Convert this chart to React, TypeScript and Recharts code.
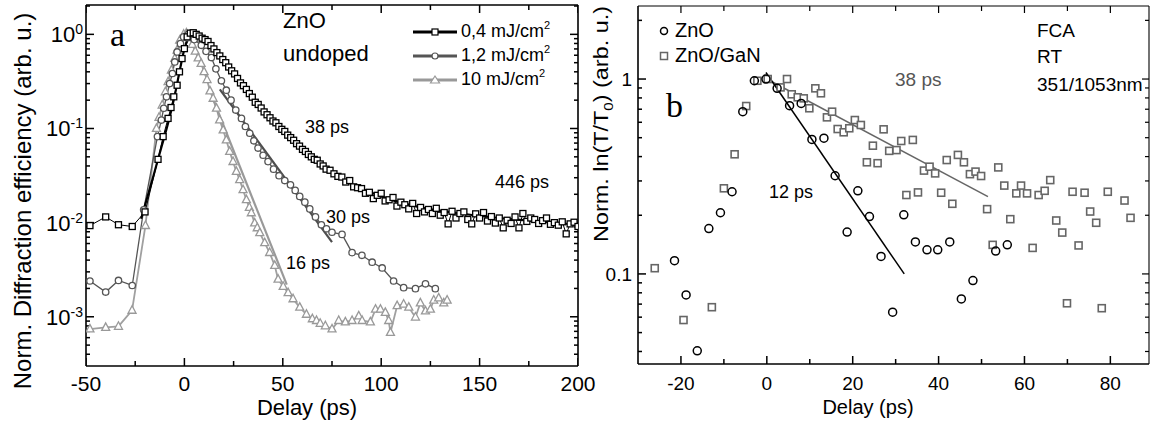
import React from 'react'
import { LineChart, Line, XAxis, YAxis } from 'recharts'

const SANS = '"Liberation Sans", Arial, Helvetica, sans-serif'
const SERIF = '"Liberation Serif", "Times New Roman", serif'

// ---------- panel a: diffraction efficiency vs delay ----------
const delay04 = [-48, -40, -33.5, -26.5, -20, -13.4, -10.8, -8.3, -6.8, -5.4, -3.7, -2.5, -1.2, 0, 1.4, 3, 4.5, 6, 7.5, 9, 10.5, 12, 13.5, 15, 16.5, 18, 19.5, 21, 22.5, 24, 25.5, 27, 28.5, 30, 31.5, 33, 34.5, 36, 37.5, 39, 40.5, 42, 43.5, 45, 46.5, 48, 49.5, 51, 52.5, 54, 55.5, 57, 58.5, 60, 61.5, 63, 64.5, 66, 67.5, 69, 70.5, 72, 74, 76, 78, 80, 82, 84, 86, 88, 90, 92, 94, 96, 98, 100, 102, 104, 106, 108, 110, 112, 114, 116, 118, 120, 122, 124, 126, 128, 130, 132, 134, 136, 138, 140, 142, 144, 146, 148, 150, 152, 154, 156, 158, 160, 162, 164, 166, 168, 170, 172, 174, 176, 178, 180, 182, 184, 186, 188, 190, 192, 194, 196, 198, 200]
const eff04 = [0.0093, 0.0115, 0.0095, 0.0091, 0.013, 0.047, 0.082, 0.128, 0.167, 0.217, 0.288, 0.4, 0.553, 0.705, 0.94, 1.03, 1.04, 1.0, 0.96, 0.91, 0.88, 0.84, 0.76, 0.7, 0.64, 0.59, 0.54, 0.5, 0.45, 0.41, 0.38, 0.34, 0.305, 0.285, 0.26, 0.235, 0.215, 0.19, 0.18, 0.165, 0.15, 0.14, 0.13, 0.12, 0.115, 0.105, 0.098, 0.093, 0.085, 0.08, 0.075, 0.069, 0.065, 0.06, 0.057, 0.053, 0.05, 0.047, 0.046, 0.042, 0.04, 0.037, 0.036, 0.033, 0.031, 0.0305, 0.027, 0.028, 0.024, 0.0235, 0.023, 0.0205, 0.021, 0.018, 0.0195, 0.0205, 0.017, 0.0175, 0.0185, 0.015, 0.0165, 0.0155, 0.014, 0.016, 0.0125, 0.0145, 0.013, 0.0138, 0.0125, 0.0142, 0.012, 0.0128, 0.0097, 0.0132, 0.0112, 0.0125, 0.013, 0.0108, 0.0097, 0.0124, 0.0112, 0.0128, 0.0104, 0.0116, 0.0099, 0.0112, 0.0088, 0.0106, 0.0098, 0.0115, 0.0088, 0.0125, 0.0103, 0.0112, 0.0108, 0.0098, 0.0105, 0.0112, 0.0096, 0.01, 0.0094, 0.0102, 0.0076, 0.0097, 0.0101, 0.0091]

const delay12 = [-48, -40, -33.5, -26.5, -20.7, -13.7, -11.7, -10.5, -9.1, -7.5, -6.1, -4.9, -3.7, -2, -0.4, 1.9, 5, 8.6, 11, 13.7, 16, 18.8, 21.3, 23.7, 26.1, 29, 31, 33.2, 35.3, 37.4, 40, 42.5, 45.3, 48.1, 51, 53.9, 56.3, 58.6, 61.2, 63.7, 66.6, 69.6, 72.2, 75, 80.1, 85.2, 90.2, 95.4, 100.5, 106.3, 111.4, 117.4, 122.5, 127.5]
const eff12 = [0.0024, 0.00183, 0.00243, 0.00215, 0.0137, 0.082, 0.123, 0.164, 0.217, 0.3, 0.384, 0.509, 0.65, 0.797, 0.94, 1.0, 0.88, 0.765, 0.66, 0.567, 0.43, 0.321, 0.255, 0.2, 0.157, 0.128, 0.105, 0.089, 0.074, 0.062, 0.052, 0.0445, 0.037, 0.0315, 0.028, 0.0252, 0.022, 0.019, 0.0165, 0.014, 0.0115, 0.0095, 0.0086, 0.0079, 0.0075, 0.0048, 0.0045, 0.0038, 0.0033, 0.0024, 0.00204, 0.00199, 0.00224, 0.00199]

const delay10 = [-48, -40, -33.5, -26.6, -19.8, -14.2, -12.9, -11.3, -9.7, -8.3, -6.6, -4.9, -3.7, -2.4, -0.4, 1, 2.5, 4, 5.5, 7, 8.5, 10, 11.5, 13, 14.6, 16.3, 17.9, 19.7, 21.3, 23, 24.7, 26.4, 28.1, 29.8, 31.5, 33, 34, 35.7, 37, 38.3, 40.8, 43.3, 45.9, 47.6, 50.2, 52.7, 55.2, 58.6, 62, 65, 67.1, 69, 71.6, 75, 78.4, 81.8, 85.2, 88.6, 90.3, 94.5, 97.1, 99.6, 102.1, 103.8, 104.7, 108.1, 111.4, 114, 117.4, 119.9, 122.5, 125, 126.7, 129.2, 131.8, 133.5]
const eff10 = [0.00074, 0.00077, 0.00079, 0.00117, 0.0093, 0.1, 0.131, 0.177, 0.245, 0.313, 0.416, 0.553, 0.677, 0.864, 1.0, 1.03, 0.92, 0.78, 0.66, 0.56, 0.49, 0.4, 0.33, 0.25, 0.209, 0.164, 0.123, 0.0964, 0.0755, 0.0569, 0.0445, 0.0349, 0.0285, 0.0223, 0.0175, 0.0145, 0.0127, 0.0099, 0.0088, 0.0078, 0.0061, 0.0048, 0.0035, 0.0025, 0.0021, 0.0018, 0.00155, 0.00126, 0.00106, 0.00095, 0.00091, 0.00085, 0.0008, 0.00074, 0.00091, 0.00088, 0.00091, 0.00102, 0.00091, 0.00088, 0.0012, 0.0012, 0.00111, 0.00091, 0.00068, 0.00131, 0.00136, 0.00126, 0.00099, 0.0014, 0.00115, 0.0012, 0.0015, 0.00158, 0.0014, 0.0015]

// fitted decays
const fit38x = [-22, -16, -12, -8, -5, -2, 0, 2, 4, 6, 10, 15, 20, 25, 30, 35, 40, 45, 50, 60, 70, 80, 90, 100, 120, 140, 160, 180, 200]
const fit38y = [0.011, 0.03, 0.06, 0.12, 0.22, 0.45, 0.7, 0.9, 1.0, 1.0, 0.89, 0.7, 0.52, 0.38, 0.28, 0.21, 0.16, 0.125, 0.097, 0.061, 0.04, 0.029, 0.023, 0.019, 0.0145, 0.0125, 0.0112, 0.0103, 0.0095]
const fit30x = [18, 75]
const fit30y = [0.26, 0.0062]
const fit16x = [14, 52]
const fit16y = [0.22, 0.0022]

const xMajorA = [-50, 0, 50, 100, 150, 200]
const xMinorA = [-25, 25, 75, 125, 175]
const yMajorA = [0.001, 0.01, 0.1, 1]
const yExpA = ['-3', '-2', '-1', '0']
const yMinorA = [0.0004, 0.0005, 0.0006, 0.0007, 0.0008, 0.0009, 0.002, 0.003, 0.004, 0.005, 0.006, 0.007, 0.008, 0.009, 0.02, 0.03, 0.04, 0.05, 0.06, 0.07, 0.08, 0.09, 0.2, 0.3, 0.4, 0.5, 0.6, 0.7, 0.8, 0.9, 2]

// ---------- panel b: FCA ----------
const delayZnO = [-21.5, -18.8, -16.2, -13.5, -10.8, -8.1, -5.6, -2.9, -0.2, 2.4, 5.3, 8, 10.5, 13.3, 15.9, 18.7, 21.2, 23.9, 26.6, 29.3, 31.9, 34.6, 37.3, 39.8, 42.6, 45.3, 48, 53.3, 56]
const lnZnO = [0.117, 0.078, 0.0403, 0.171, 0.206, 0.264, 0.68, 0.98, 1.0, 0.896, 0.73, 0.75, 0.49, 0.497, 0.319, 0.164, 0.267, 0.197, 0.123, 0.0636, 0.201, 0.146, 0.133, 0.133, 0.146, 0.0744, 0.0924, 0.131, 0.141]
const delayGaN = [-26.1, -19.4, -12.8, -10, -7.5, -4.8, -2.2, 0.2, 3.2, 4.7, 5.8, 7.2, 8.6, 9.9, 11.3, 12.6, 14, 15.2, 16.5, 17.9, 19.2, 20.5, 21.9, 23.3, 24.7, 25.8, 27.2, 28.5, 30.2, 31.3, 32.5, 34, 35.2, 36.6, 37.9, 39.2, 40.6, 41.9, 43.2, 44.5, 45.9, 47.3, 48.6, 49.9, 51.3, 52.6, 53.9, 55.3, 56.7, 58.1, 59.2, 60.6, 61.9, 63.3, 64.7, 66, 67.4, 68.8, 69.9, 71.2, 72.6, 74, 75.3, 76.7, 78, 79.4, 83.3, 84.7]
const lnGaN = [0.107, 0.058, 0.0675, 0.275, 0.411, 0.727, 0.98, 1.0, 0.906, 1.0, 0.835, 0.806, 0.796, 0.708, 0.896, 0.845, 0.636, 0.68, 0.554, 0.533, 0.559, 0.616, 0.581, 0.374, 0.455, 0.37, 0.552, 0.428, 0.432, 0.481, 0.254, 0.487, 0.262, 0.339, 0.355, 0.328, 0.261, 0.384, 0.229, 0.408, 0.374, 0.325, 0.335, 0.318, 0.215, 0.141, 0.352, 0.284, 0.191, 0.259, 0.284, 0.259, 0.136, 0.254, 0.267, 0.303, 0.188, 0.163, 0.0707, 0.264, 0.14, 0.261, 0.209, 0.183, 0.0667, 0.264, 0.238, 0.194]
const fit12x = [-0.2, 32]
const fit12y = [1.08, 0.1]
const fitGaNx = [0, 51.5]
const fitGaNy = [1.0, 0.249]

const xMajorB = [-20, 0, 20, 40, 60, 80]
const xMinorB = [-10, 10, 30, 50, 70]
const yMajorB = [0.1, 1]
const yLabelsB = ['0.1', '1']
const yMinorB = [0.04, 0.05, 0.06, 0.07, 0.08, 0.09, 0.2, 0.3, 0.4, 0.5, 0.6, 0.7, 0.8, 0.9, 2]

type Pt = { x: number; y: number }
const zip = (xs: number[], ys: number[]): Pt[] => xs.map((x, i) => ({ x, y: ys[i] }))

const squareDot = (s: number, stroke: string, sw: number) => (p: any) => {
  const { cx, cy, index } = p
  if (cx == null || cy == null) return <g key={`sq${index}`} />
  return <rect key={`sq${index}`} x={cx - s / 2} y={cy - s / 2} width={s} height={s} fill="#fff" stroke={stroke} strokeWidth={sw} />
}
const triangleDot = (s: number, stroke: string, sw: number) => (p: any) => {
  const { cx, cy, index } = p
  if (cx == null || cy == null) return <g key={`tr${index}`} />
  const pts = `${cx},${cy - s * 0.58} ${cx - s / 2},${cy + s * 0.36} ${cx + s / 2},${cy + s * 0.36}`
  return <polygon key={`tr${index}`} points={pts} fill="#fff" stroke={stroke} strokeWidth={sw} />
}
const circleDot = (r: number, stroke: string, sw: number, fill = '#fff') => (p: any) => {
  const { cx, cy, index } = p
  if (cx == null || cy == null) return <g key={`ci${index}`} />
  return <circle key={`ci${index}`} cx={cx} cy={cy} r={r} fill={fill} stroke={stroke} strokeWidth={sw} />
}

// inward tick marks as thin bars placed through the chart scales
type Side = 'top' | 'bottom' | 'left' | 'right'
const tickDot = (side: Side, len: number, w: number) => (p: any) => {
  const { cx, cy, index } = p
  if (cx == null || cy == null) return <g key={`t${side}${index}`} />
  let r = { x: cx - w / 2, y: cy - len, width: w, height: len }
  if (side === 'top') r = { x: cx - w / 2, y: cy, width: w, height: len }
  if (side === 'left') r = { x: cx, y: cy - w / 2, width: len, height: w }
  if (side === 'right') r = { x: cx - len, y: cy - w / 2, width: len, height: w }
  return <rect key={`t${side}${index}`} {...r} fill="#000" stroke="none" />
}
const TickMarks = (side: Side, pts: Pt[], len: number, w: number, key: string) => (
  <Line key={key} xAxisId="b" yAxisId="l" data={pts} dataKey="y" type="linear" stroke="none" strokeWidth={0}
    dot={tickDot(side, len, w)} activeDot={false} isAnimationActive={false} legendType="none" />
)
const atY = (xs: number[], y: number): Pt[] => xs.map((x) => ({ x, y }))
const atX = (ys: number[], x: number): Pt[] => ys.map((y) => ({ x, y }))

const axisLine = { stroke: '#000', strokeWidth: 1.6 }
const thinLine = { stroke: '#000', strokeWidth: 1.1 }
const tickStroke = (w: number) => ({ stroke: '#000', strokeWidth: w })

// mirrored helper axes: they give the top / right frame lines
const markX = (id: string, side: 'top' | 'bottom', domain: number[], ticks: number[], size: number, w: number, line: any = false) => (
  <XAxis key={id} xAxisId={id} orientation={side} mirror type="number" dataKey="x" domain={domain} allowDataOverflow
    ticks={ticks} interval={0} tick={false} tickSize={size} tickLine={tickStroke(w)} axisLine={line} height={0.01} />
)
const markY = (id: string, side: 'left' | 'right', domain: number[], ticks: number[], size: number, w: number, line: any = false) => (
  <YAxis key={id} yAxisId={id} orientation={side} mirror type="number" scale="log" domain={domain} allowDataOverflow
    ticks={ticks} interval={0} tick={false} tickSize={size} tickLine={tickStroke(w)} axisLine={line} width={0.01} />
)

function PanelA() {
  const xDom = [-50, 200]
  const yDom = [0.0003, 2.05]
  const xLabel = (p: any) => (
    <text key={`xa${p.payload?.value}`} x={p.x} y={Number(p.y) + 25} textAnchor="middle" fontFamily={SANS} fontSize={21} fill="#000">
      {String(p.payload?.value)}
    </text>
  )
  const yLabel = (p: any) => {
    const v = Number(p.payload?.value)
    const i = yMajorA.findIndex((m) => Math.abs(m - v) <= m * 1e-6)
    return (
      <text key={`ya${v}`} x={Number(p.x) - 3} y={Number(p.y) + 8} textAnchor="end" fontFamily={SANS} fontSize={22} fill="#000">
        10<tspan dy={-8} fontSize={14}>{yExpA[i]}</tspan>
      </text>
    )
  }
  return (
    <LineChart width={600} height={423} margin={{ top: 5, right: 22, bottom: 17, left: 26 }}>
      <XAxis xAxisId="b" dataKey="x" type="number" domain={xDom} allowDataOverflow ticks={xMajorA} interval={0}
        tickLine={false} tickSize={0} tickMargin={0} axisLine={axisLine} height={40} tick={xLabel} />
      <YAxis yAxisId="l" type="number" scale="log" domain={yDom} allowDataOverflow ticks={yMajorA} interval={0}
        tickLine={false} tickSize={0} tickMargin={0} axisLine={axisLine} width={60} tick={yLabel} />
      {markX('bM', 'bottom', xDom, xMajorA, 8, 1.5)}
      {markX('bm', 'bottom', xDom, xMinorA, 5, 1.5)}
      {markX('tM', 'top', xDom, xMajorA, 8, 1.5, axisLine)}
      {markX('tm', 'top', xDom, xMinorA, 5, 1.5)}
      {markY('lM', 'left', yDom, yMajorA, 8, 1.5)}
      {markY('lm', 'left', yDom, yMinorA, 4, 1.5)}
      {markY('rM', 'right', yDom, yMajorA, 8, 1.5, axisLine)}
      {markY('rm', 'right', yDom, yMinorA, 4, 1.5)}

      {TickMarks('bottom', atY(xMajorA, yDom[0]), 8, 1.5, 'bM')}
      {TickMarks('bottom', atY(xMinorA, yDom[0]), 5, 1.5, 'bm')}
      {TickMarks('top', atY(xMajorA, yDom[1]), 8, 1.5, 'tM')}
      {TickMarks('top', atY(xMinorA, yDom[1]), 5, 1.5, 'tm')}
      {TickMarks('left', atX(yMajorA, xDom[0]), 8, 1.5, 'lM')}
      {TickMarks('left', atX(yMinorA, xDom[0]), 4, 1.5, 'lm')}
      {TickMarks('right', atX(yMajorA, xDom[1]), 8, 1.5, 'rM')}
      {TickMarks('right', atX(yMinorA, xDom[1]), 4, 1.5, 'rm')}

      <Line xAxisId="b" yAxisId="l" data={zip(delay10, eff10)} dataKey="y" type="linear" stroke="#a0a0a0" strokeWidth={1.8}
        dot={triangleDot(8, '#999', 1.3)} activeDot={false} isAnimationActive={false} />
      <Line xAxisId="b" yAxisId="l" data={zip(delay12, eff12)} dataKey="y" type="linear" stroke="#555" strokeWidth={1.3}
        dot={circleDot(3.2, '#555', 1.3)} activeDot={false} isAnimationActive={false} />
      <Line xAxisId="b" yAxisId="l" data={zip(delay04, eff04)} dataKey="y" type="linear" stroke="#000" strokeWidth={1}
        dot={squareDot(6, '#000', 1.3)} activeDot={false} isAnimationActive={false} />

      <Line xAxisId="b" yAxisId="l" data={zip(fit16x, fit16y)} dataKey="y" type="linear" stroke="#999" strokeWidth={2.2}
        dot={false} activeDot={false} isAnimationActive={false} />
      <Line xAxisId="b" yAxisId="l" data={zip(fit30x, fit30y)} dataKey="y" type="linear" stroke="#4d4d4d" strokeWidth={2.2}
        dot={false} activeDot={false} isAnimationActive={false} />
      <Line xAxisId="b" yAxisId="l" data={zip(fit38x, fit38y)} dataKey="y" type="monotone" stroke="#000" strokeWidth={2.2}
        dot={false} activeDot={false} isAnimationActive={false} />
    </LineChart>
  )
}

function PanelB() {
  const xDom = [-30, 89]
  const yDom = [0.0345, 2.37]
  const xLabel = (p: any) => (
    <text key={`xb${p.payload?.value}`} x={p.x} y={Number(p.y) + 26} textAnchor="middle" fontFamily={SANS} fontSize={19} fill="#000">
      {String(p.payload?.value)}
    </text>
  )
  const yLabel = (p: any) => {
    const v = Number(p.payload?.value)
    const i = yMajorB.findIndex((m) => Math.abs(m - v) <= m * 1e-6)
    return (
      <text key={`yb${v}`} x={Number(p.x) - 6} y={Number(p.y) + 7} textAnchor="end" fontFamily={SANS} fontSize={19} fill="#000">{yLabelsB[i]}</text>
    )
  }
  return (
    <LineChart width={593} height={423} margin={{ top: 6, right: 4, bottom: 19, left: 18 }}>
      <XAxis xAxisId="b" dataKey="x" type="number" domain={xDom} allowDataOverflow ticks={xMajorB} interval={0}
        tickLine={false} tickSize={0} tickMargin={0} axisLine={axisLine} height={40} tick={xLabel} />
      <YAxis yAxisId="l" type="number" scale="log" domain={yDom} allowDataOverflow ticks={yMajorB} interval={0}
        tickLine={false} tickSize={0} tickMargin={0} axisLine={axisLine} width={60} tick={yLabel} />
      {markX('bM', 'bottom', xDom, xMajorB, 8, 1.5)}
      {markX('bm', 'bottom', xDom, xMinorB, 5, 1.5)}
      {markX('tM', 'top', xDom, xMajorB, 7, 1.2, thinLine)}
      {markX('tm', 'top', xDom, xMinorB, 5, 1.2)}
      {markY('lM', 'left', yDom, yMajorB, 8, 1.5)}
      {markY('lm', 'left', yDom, yMinorB, 4, 1.5)}
      {markY('rM', 'right', yDom, yMajorB, 7, 1.2, thinLine)}
      {markY('rm', 'right', yDom, yMinorB, 4, 1.2)}

      {TickMarks('bottom', atY(xMajorB, yDom[0]), 8, 1.5, 'bM')}
      {TickMarks('bottom', atY(xMinorB, yDom[0]), 5, 1.5, 'bm')}
      {TickMarks('top', atY(xMajorB, yDom[1]), 7, 1.2, 'tM')}
      {TickMarks('top', atY(xMinorB, yDom[1]), 5, 1.2, 'tm')}
      {TickMarks('left', atX(yMajorB, xDom[0]), 8, 1.5, 'lM')}
      {TickMarks('left', atX(yMinorB, xDom[0]), 4, 1.5, 'lm')}
      {TickMarks('right', atX(yMajorB, xDom[1]), 7, 1.2, 'rM')}
      {TickMarks('right', atX(yMinorB, xDom[1]), 4, 1.2, 'rm')}

      <Line xAxisId="b" yAxisId="l" data={zip(delayGaN, lnGaN)} dataKey="y" type="linear" stroke="none" strokeWidth={0}
        dot={squareDot(7, '#666', 1.6)} activeDot={false} isAnimationActive={false} />
      <Line xAxisId="b" yAxisId="l" data={zip(delayZnO, lnZnO)} dataKey="y" type="linear" stroke="none" strokeWidth={0}
        dot={circleDot(4, '#000', 1.5, 'none')} activeDot={false} isAnimationActive={false} />
      <Line xAxisId="b" yAxisId="l" data={zip(fitGaNx, fitGaNy)} dataKey="y" type="linear" stroke="#666" strokeWidth={1.5}
        dot={false} activeDot={false} isAnimationActive={false} />
      <Line xAxisId="b" yAxisId="l" data={zip(fit12x, fit12y)} dataKey="y" type="linear" stroke="#000" strokeWidth={1.5}
        dot={false} activeDot={false} isAnimationActive={false} />
    </LineChart>
  )
}

function Annotations() {
  const legendA = [
    { label: '0,4 mJ/cm', color: '#000', y: 32, kind: 'sq' },
    { label: '1,2 mJ/cm', color: '#555', y: 56, kind: 'ci' },
    { label: '10 mJ/cm', color: '#999', y: 80, kind: 'tr' },
  ]
  return (
    <svg width={1153} height={423} style={{ position: 'absolute', left: 0, top: 0, pointerEvents: 'none' }} fontFamily={SANS}>
      {/* panel a */}
      <text x={110} y={46} fontFamily={SERIF} fontSize={34}>a</text>
      <text x={283} y={28} fontSize={22}>ZnO</text>
      <text x={283} y={61} fontSize={22}>undoped</text>
      {legendA.map((r) => (
        <g key={r.label}>
          <line x1={413} y1={r.y} x2={457} y2={r.y} stroke={r.color} strokeWidth={3} />
          {r.kind === 'sq' && <rect x={432} y={r.y - 3} width={6} height={6} fill="#fff" stroke={r.color} strokeWidth={1.2} />}
          {r.kind === 'ci' && <circle cx={435} cy={r.y} r={3} fill="#fff" stroke={r.color} strokeWidth={1.2} />}
          {r.kind === 'tr' && <polygon points={`435,${r.y - 4} 430.5,${r.y + 3} 439.5,${r.y + 3}`} fill="#fff" stroke={r.color} strokeWidth={1.2} />}
          <text x={461} y={r.y + 5} fontSize={18}>{r.label}<tspan dy={-8} fontSize={11}>2</tspan></text>
        </g>
      ))}
      <text x={305} y={133} fontSize={18}>38 ps</text>
      <text x={495} y={188} fontSize={18}>446 ps</text>
      <text x={326} y={223} fontSize={18}>30 ps</text>
      <text x={286} y={269} fontSize={18}>16 ps</text>
      <text transform="translate(31,201) rotate(-90)" textAnchor="middle" fontSize={24}>Norm. Diffraction efficiency (arb. u.)</text>
      <text x={307} y={415} textAnchor="middle" fontSize={22}>Delay (ps)</text>

      {/* panel b */}
      <circle cx={664} cy={31} r={3.5} fill="none" stroke="#000" strokeWidth={1.5} />
      <text x={675} y={37} fontSize={20}>ZnO</text>
      <rect x={660.5} y={52.5} width={7} height={7} fill="#fff" stroke="#666" strokeWidth={1.5} />
      <text x={675} y={62} fontSize={20}>ZnO/GaN</text>
      <text x={666} y={117} fontFamily={SERIF} fontSize={34}>b</text>
      <text x={769} y={198} fontSize={18}>12 ps</text>
      <text x={895} y={86} fontSize={19} fill="#555">38 ps</text>
      <text x={1037} y={37} fontSize={19}>FCA</text>
      <text x={1037} y={63} fontSize={19}>RT</text>
      <text x={1037} y={91} fontSize={19}>351/1053nm</text>
      <text transform="translate(608,124) rotate(-90)" textAnchor="middle" fontSize={20} textLength={236} lengthAdjust="spacingAndGlyphs">
        Norm. ln(T/T<tspan dy={5} fontSize={13}>0</tspan><tspan dy={-5}>) (arb. u.)</tspan>
      </text>
      <text x={868} y={414} textAnchor="middle" fontSize={20}>Delay (ps)</text>
    </svg>
  )
}

export default function App() {
  return (
    <div style={{ position: 'absolute', left: 0, top: 0, width: 1153, height: 423, background: '#fff', fontFamily: SANS }}>
      <div style={{ position: 'absolute', left: 0, top: 0 }}>
        <PanelA />
      </div>
      <div style={{ position: 'absolute', left: 560, top: 0 }}>
        <PanelB />
      </div>
      <Annotations />
    </div>
  )
}
